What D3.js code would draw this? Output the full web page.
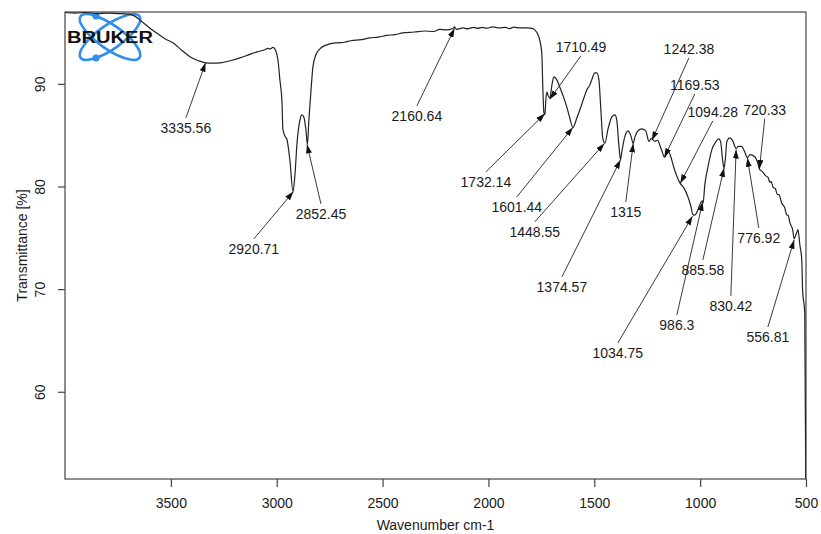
<!DOCTYPE html>
<html>
<head>
<meta charset="utf-8">
<script src="https://cdn.jsdelivr.net/npm/d3@7"></script>
<style>
  body { margin: 0; background: #fff; }
  svg { font-family: "Liberation Sans", Arial, sans-serif; }
</style>
</head>
<body>
<svg id="chart" width="821" height="534"></svg>
<script>
// ---------------------------------------------
//  Spectrum data
// ---------------------------------------------

const wavenumber = [
  4000, 3950, 3900, 3850, 3800, 3750, 3700, 3670, 3640, 3600, 3560, 3520, 3490, 3450, 3410, 3370,
  3336, 3300, 3268, 3220, 3174, 3130, 3093, 3060, 3040, 3032, 3018, 3004, 2994, 2985, 2975, 2971,
  2961, 2952, 2938, 2923, 2914, 2904, 2890, 2881, 2871, 2862, 2855, 2848, 2838, 2829, 2815, 2796,
  2763, 2716, 2680, 2650, 2600, 2560, 2520, 2480, 2440, 2404, 2350, 2300, 2260, 2230, 2200, 2168,
  2160, 2150, 2120, 2100, 2070, 2050, 2030, 2007, 1980, 1950, 1920, 1900, 1880, 1850, 1818, 1795,
  1781, 1762, 1748, 1743, 1738, 1733, 1729, 1724, 1719, 1710, 1700, 1691, 1677, 1663, 1644, 1630,
  1616, 1601, 1582, 1568, 1549, 1535, 1521, 1512, 1497, 1488, 1478, 1469, 1460, 1450, 1436, 1417,
  1403, 1394, 1384, 1376, 1370, 1356, 1341, 1327, 1316, 1309, 1294, 1276, 1257, 1242, 1230, 1215,
  1200, 1190, 1178, 1169, 1160, 1150, 1140, 1125, 1110, 1094, 1077, 1058, 1044, 1035, 1025, 1015,
  1002, 990, 986, 978, 964, 945, 926, 912, 903, 894, 887, 880, 874, 860, 846, 830,
  820, 805, 790, 777, 765, 742, 728, 720, 709, 700, 690, 680, 670, 665, 655, 645,
  635, 628, 615, 600, 590, 585, 575, 563, 556, 548, 542, 538, 529, 520, 516, 506,
  501
];

const transmittance = [
  96.95, 96.9, 96.95, 96.85, 96.9, 96.85, 96.8, 96.6, 96.1, 95.45, 94.85, 94.3, 94.0, 93.3, 92.65, 92.25,
  92.05, 92.02, 92.05, 92.25, 92.53, 92.85, 93.12, 93.3, 93.45, 93.4, 93.55, 93.2, 92.3, 90.4, 88.2, 85.6,
  84.9, 84.6, 82.6, 79.5, 81.1, 84.25, 86.5, 86.98, 86.7, 85.5, 84.1, 86.5, 89.4, 91.66, 92.83, 93.41,
  93.8, 94.0, 94.05, 94.2, 94.3, 94.48, 94.55, 94.72, 94.8, 94.97, 95.05, 95.15, 95.1, 95.3, 95.25, 95.4,
  95.55, 95.3, 95.45, 95.35, 95.5, 95.4, 95.5, 95.42, 95.55, 95.45, 95.5, 95.38, 95.52, 95.45, 95.46, 95.4,
  95.26, 94.58, 93.0, 89.6, 87.2, 87.0, 88.4, 89.2, 88.9, 88.6, 89.9, 90.68, 90.39, 89.7, 88.64, 87.76,
  86.7, 85.75, 86.7, 87.47, 88.64, 89.42, 89.9, 90.39, 91.07, 91.07, 90.39, 87.47, 84.7, 84.2, 85.52, 86.78,
  86.98, 86.5, 84.05, 82.6, 83.37, 84.83, 85.42, 84.93, 84.2, 84.74, 85.42, 85.61, 85.42, 84.4, 84.7, 84.4,
  84.5, 84.0, 83.3, 82.85, 83.1, 83.4, 83.0, 81.9, 81.0, 80.3, 79.86, 79.0, 78.1, 77.3, 77.2, 77.5,
  78.2, 78.6, 78.4, 80.16, 81.81, 83.57, 84.35, 84.64, 84.35, 82.6, 81.8, 82.9, 84.35, 84.74, 84.44, 83.7,
  83.9, 83.9, 83.4, 82.8, 83.1, 82.9, 82.3, 81.7, 81.5, 81.3, 81.03, 80.9, 80.4, 80.5, 79.9, 79.8,
  79.2, 79.2, 78.4, 77.9, 77.2, 77.2, 76.4, 75.77, 74.9, 75.3, 75.6, 75.8, 74.3, 72.85, 69.9, 67.7,
  51.5
];

// Peak annotations: label, peak position, label centre (data units)
const peakLabels = ["3335.56", "2920.71", "2852.45", "2160.64", "1732.14", "1710.49", "1601.44",
  "1448.55", "1374.57", "1315", "1242.38", "1169.53", "1094.28", "1034.75", "986.3", "885.58",
  "830.42", "776.92", "720.33", "556.81"];
const peakWn = [3336, 2921, 2857, 2160, 1733, 1710, 1601, 1452, 1376, 1316, 1228, 1169, 1094, 1036,
  988, 887, 830, 777, 720, 556];
const peakT = [92.05, 79.5, 84.1, 95.4, 87.1, 88.5, 85.75, 84.2, 82.6, 84.2, 84.5, 82.85, 80.3, 77.1,
  78.5, 81.8, 83.6, 82.8, 81.7, 74.8];
const labelWn = [3429, 3108, 2791, 2338, 2012, 1563, 1866, 1781, 1653, 1351, 1053, 1025, 940, 1389,
  1110, 987, 855, 723, 695, 680];
const labelT = [85.71, 73.92, 77.33, 86.88, 80.45, 93.61, 78.01, 75.58, 70.21, 77.52, 93.41, 89.9,
  87.27, 63.78, 66.51, 71.87, 68.36, 74.99, 87.47, 65.34];

const xTicks = [3500, 3000, 2500, 2000, 1500, 1000, 500];
const yTicks = [60, 70, 80, 90];

// ---------------------------------------------
//  Setup
// ---------------------------------------------

const svg = d3.select("#chart");
const plotL = 65, plotR = 806, plotT = 12, plotB = 479;
const ink = "#1a1a1a";

const x = d3.scaleLinear().domain([4000, 500]).range([plotL, plotR]);
const y = d3.scaleLinear().domain([51.5, 97]).range([plotB, plotT]);

const defs = svg.append("defs");
defs.append("clipPath").attr("id", "plot")
  .append("rect").attr("x", plotL).attr("y", plotT - 2)
  .attr("width", plotR - plotL).attr("height", plotB - plotT + 2);

defs.append("marker")
  .attr("id", "head")
  .attr("viewBox", "0 0 9 6")
  .attr("refX", 9).attr("refY", 3)
  .attr("markerWidth", 9).attr("markerHeight", 6)
  .attr("markerUnits", "userSpaceOnUse")
  .attr("orient", "auto")
  .append("path").attr("d", "M0,0L9,3L0,6Z").attr("fill", "#111");

// Bruker logo (drawn under the trace)
const logo = svg.append("g").attr("transform", "translate(110,37)");
[35, -35].forEach(a => {
  logo.append("ellipse").attr("rx", 36).attr("ry", 12)
    .attr("transform", `rotate(${a})`)
    .attr("fill", "none").attr("stroke", "#2f8fea").attr("stroke-width", 2.6);
});
logo.append("circle").attr("cx", -14).attr("cy", -21).attr("r", 3.6).attr("fill", "#2f8fea");
logo.append("circle").attr("cx", -14).attr("cy", 21).attr("r", 3.6).attr("fill", "#2f8fea");
logo.append("text").attr("x", -43).attr("y", 5.5)
  .attr("textLength", 86).attr("lengthAdjust", "spacingAndGlyphs")
  .attr("font-size", 16).attr("font-weight", 900).attr("fill", "#111")
  .text("BRUKER");

// Frame
svg.append("rect")
  .attr("x", plotL).attr("y", plotT)
  .attr("width", plotR - plotL).attr("height", plotB - plotT)
  .attr("fill", "none").attr("stroke", "#444").attr("stroke-width", 1.2);

// X axis
const gx = svg.append("g").attr("transform", `translate(0,${plotB})`)
  .call(d3.axisBottom(x).tickValues(xTicks).tickSize(8).tickPadding(11).tickFormat(d3.format("d")));
gx.select(".domain").remove();
gx.selectAll("line").attr("stroke", "#444").attr("stroke-width", 1.2);
gx.selectAll("text").attr("font-size", 14).attr("fill", ink);
gx.attr("font-family", null);

// Y axis
const gy = svg.append("g").attr("transform", `translate(${plotL},0)`)
  .call(d3.axisLeft(y).tickValues(yTicks).tickSize(7));
gy.select(".domain").remove();
gy.attr("font-family", null);
gy.selectAll("line").attr("stroke", "#444").attr("stroke-width", 1.2);
gy.selectAll("text")
  .attr("transform", "rotate(-90)")
  .attr("x", 0).attr("y", -25).attr("dy", "0.35em")
  .attr("text-anchor", "middle")
  .attr("font-size", 14).attr("fill", ink);

// Axis titles
svg.append("text")
  .attr("x", (plotL + plotR) / 2).attr("y", 530)
  .attr("text-anchor", "middle").attr("font-size", 14).attr("fill", ink)
  .text("Wavenumber cm-1");
svg.append("text")
  .attr("transform", `translate(22,${(plotT + plotB) / 2}) rotate(-90)`)
  .attr("dy", "0.35em")
  .attr("text-anchor", "middle").attr("font-size", 14).attr("fill", ink)
  .text("Transmittance [%]");

// ---------------------------------------------
//  Spectrum trace
// ---------------------------------------------

const points = wavenumber.map((w, i) => [w, transmittance[i]]);
const line = d3.line()
  .x(d => x(d[0]))
  .y(d => y(d[1]))
  .curve(d3.curveMonotoneX);

svg.append("path")
  .datum(points)
  .attr("clip-path", "url(#plot)")
  .attr("d", line)
  .attr("fill", "none")
  .attr("stroke", "#222")
  .attr("stroke-width", 1.2)
  .attr("stroke-linejoin", "round");

// ---------------------------------------------
//  Peak labels + arrows
// ---------------------------------------------

const ann = svg.append("g");
peakLabels.forEach((label, i) => {
  const lx = x(labelWn[i]), ly = y(labelT[i]);
  const tx = x(peakWn[i]), ty = y(peakT[i]);
  const sy = ty < ly ? ly - 10 : ly + 9;
  ann.append("line")
    .attr("x1", lx).attr("y1", sy)
    .attr("x2", tx).attr("y2", ty)
    .attr("stroke", "#222").attr("stroke-width", 0.9)
    .attr("marker-end", "url(#head)");
  ann.append("text")
    .attr("x", lx).attr("y", ly).attr("dy", "0.35em")
    .attr("text-anchor", "middle").attr("font-size", 14).attr("fill", ink)
    .text(label);
});
</script>
</body>
</html>
